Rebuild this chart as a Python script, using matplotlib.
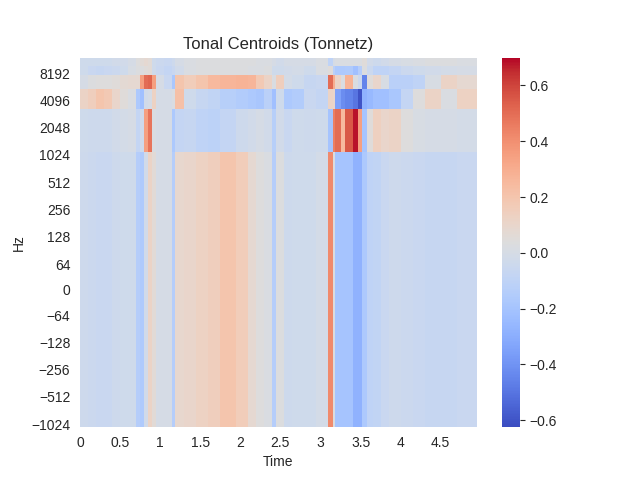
import numpy as np
import matplotlib
matplotlib.use("Agg")
import matplotlib.pyplot as plt

# time bin edges in seconds (bins follow the stripes in the picture)
time_edges = [0, 0.1, 0.2, 0.3, 0.4, 0.5, 0.6, 0.7, 0.75, 0.8, 0.85, 0.9, 0.95, 1.05, 1.15, 1.18,
              1.3, 1.45, 1.6, 1.75, 1.95, 2.1, 2.2, 2.3, 2.4, 2.45, 2.55, 2.65, 2.8, 2.95, 3.09,
              3.15, 3.18, 3.25, 3.3, 3.4, 3.47, 3.52, 3.58, 3.65, 3.75, 3.85, 4.0, 4.15, 4.3, 4.5, 4.7, 4.95]
freq_edges = [-1102.5, 1102.5, 3307.5, 5512.5, 7717.5, 9922.5, 12127.5]

row_0 = [-0.04, -0.05, -0.06, -0.06, -0.04, -0.03, -0.03, -0.14, -0.16, -0.02, 0.12, 0.06, 0.0, 0.0, -0.14, 0.09,
         0.1, 0.13, 0.15, 0.2, 0.16, 0.08, 0.04, 0.02, -0.14, 0.03, -0.04, -0.03, -0.03, -0.01, 0.42,
         0.03, -0.2, -0.2, -0.2, -0.28, -0.28, -0.17, -0.1, -0.09, -0.06, -0.04, -0.05, -0.06, -0.07, -0.07, -0.06]
row_1 = [-0.03, -0.04, -0.04, -0.04, -0.02, -0.01, 0.0, -0.08, -0.04, 0.35, 0.48, 0.02, 0.0, 0.0, -0.17, -0.08,
         -0.07, -0.1, -0.11, -0.08, -0.04, -0.02, 0.0, -0.02, -0.13, -0.02, -0.06, -0.03, -0.04, -0.03, -0.2,
         0.45, 0.5, 0.25, 0.55, 0.68, 0.35, -0.2, 0.05, 0.14, 0.1, 0.12, 0.04, 0.01, 0.0, 0.0, -0.01]
row_2 = [0.12, 0.15, 0.2, 0.18, 0.1, 0.05, 0.02, -0.17, -0.22, -0.02, 0.0, 0.13, 0.0, 0.0, 0.02, 0.22,
         -0.03, -0.07, -0.09, -0.13, -0.15, -0.17, -0.19, -0.12, -0.22, -0.03, -0.17, -0.15, -0.06, -0.08, 0.12,
         0.1, -0.35, -0.42, -0.45, -0.5, -0.6, -0.28, -0.25, -0.22, -0.22, -0.18, -0.08, 0.04, 0.12, 0.02, 0.13]
row_3 = [0.0, 0.03, 0.04, 0.04, 0.05, 0.07, 0.08, 0.08, 0.35, 0.5, 0.52, 0.35, 0.0, -0.06, -0.18, 0.2,
         0.16, 0.2, 0.25, 0.27, 0.28, 0.27, 0.18, 0.12, 0.02, 0.15, -0.01, -0.03, -0.07, -0.06, 0.5,
         0.3, 0.12, 0.02, 0.28, 0.02, -0.05, -0.45, 0.05, 0.1, 0.01, -0.12, -0.12, -0.1, 0.01, 0.12, 0.08]
row_4 = [-0.03, -0.06, -0.07, -0.06, -0.05, -0.03, 0.01, 0.03, 0.03, 0.05, 0.06, -0.03, -0.06, -0.08, -0.06, -0.02,
         0.02, 0.03, 0.03, 0.03, 0.03, 0.02, 0.02, 0.03, -0.03, -0.03, -0.02, -0.01, -0.03, 0.02, 0.05,
         -0.12, -0.17, -0.17, -0.16, -0.22, -0.14, 0.03, -0.05, -0.1, -0.1, -0.08, -0.05, -0.03, -0.02, -0.01, 0.0]
row_5 = [-0.03, -0.03, -0.03, -0.03, -0.02, -0.02, 0.0, 0.04, 0.06, 0.08, 0.06, -0.03, -0.05, -0.06, -0.04, 0.0,
         0.02, 0.03, 0.03, 0.03, 0.03, 0.03, 0.02, 0.02, 0.0, -0.02, 0.0, 0.0, 0.0, 0.02, -0.1,
         0.0, 0.02, 0.02, 0.02, 0.02, 0.02, 0.05, -0.02, -0.04, -0.02, 0.0, 0.01, 0.02, 0.03, 0.03, 0.02]

y_ticks = [-1024, -512, -256, -128, -64, 0, 64, 128, 256, 512, 1024, 2048, 4096, 8192]
y_labels = ["\u22121024", "\u2212512", "\u2212256", "\u2212128", "\u221264", "0", "64", "128", "256", "512",
            "1024", "2048", "4096", "8192"]
x_ticks = [0, 0.5, 1, 1.5, 2, 2.5, 3, 3.5, 4, 4.5]
x_labels = ["0", "0.5", "1", "1.5", "2", "2.5", "3", "3.5", "4", "4.5"]

plt.rcParams['font.family'] = ['Liberation Sans', 'DejaVu Sans']
plt.rcParams['text.color'] = '.15'
plt.rcParams['axes.labelcolor'] = '.15'
plt.rcParams['xtick.color'] = '.15'
plt.rcParams['ytick.color'] = '.15'

fig, ax = plt.subplots(figsize=(6.4, 4.8), dpi=100)

tonnetz = np.array([row_0, row_1, row_2, row_3, row_4, row_5])
mesh = ax.pcolormesh(time_edges, freq_edges, tonnetz, cmap="coolwarm", vmin=-0.625, vmax=0.7,
                     shading="flat", rasterized=True)
ax.set_yscale("symlog", base=2, linthresh=64, linscale=0.467)
ax.set_xlim(0, 4.95)
ax.set_ylim(-1102.5, 12127.5)
ax.set_yticks(y_ticks)
ax.set_yticklabels(y_labels)
ax.set_xticks(x_ticks)
ax.set_xticklabels(x_labels)
ax.minorticks_off()
ax.tick_params(axis="y", length=0, pad=7)
ax.tick_params(axis="x", length=0, pad=6)
for spine in ax.spines.values():
    spine.set_visible(False)

ax.set_title("Tonal Centroids (Tonnetz)")
ax.set_xlabel("Time")
ax.set_ylabel("Hz")

cbar = fig.colorbar(mesh, ax=ax)
cbar.outline.set_visible(False)
cbar.set_ticks([-0.6, -0.4, -0.2, 0, 0.2, 0.4, 0.6])
cbar.ax.tick_params(length=3.5, width=0.8)

fig.savefig("out.png", dpi=100)
